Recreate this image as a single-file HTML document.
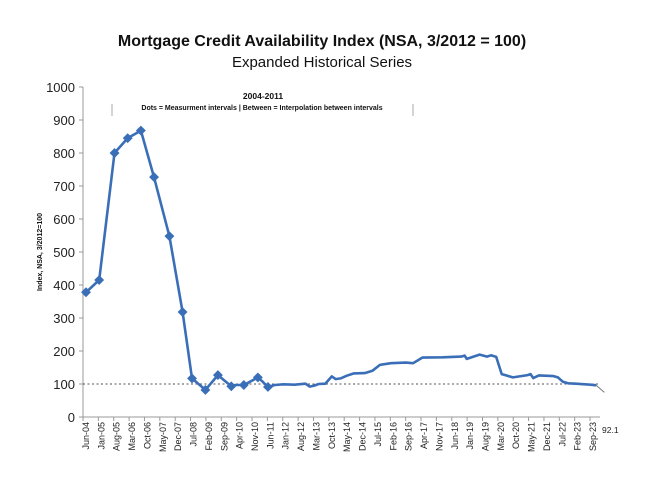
<!DOCTYPE html>
<html><head><meta charset="utf-8"><style>
body{margin:0;background:#fff;}
svg{display:block;font-family:"Liberation Sans",sans-serif;}
</style></head><body>
<svg id="s" width="650" height="484" viewBox="0 0 650 484" xmlns="http://www.w3.org/2000/svg">
<text x="322" y="46" text-anchor="middle" font-size="16" font-weight="bold" fill="#111">Mortgage Credit Availability Index (NSA, 3/2012 = 100)</text>
<text x="322" y="67" text-anchor="middle" font-size="15" fill="#111">Expanded Historical Series</text>
<text x="263" y="99" text-anchor="middle" font-size="8.5" font-weight="bold" fill="#111">2004-2011</text>
<text x="262" y="110" text-anchor="middle" font-size="7" font-weight="bold" fill="#111">Dots = Measurment intervals  |  Between = Interpolation between intervals</text>
<line x1="112" y1="104" x2="112" y2="116" stroke="#aaa" stroke-width="1"/>
<line x1="413" y1="104" x2="413" y2="116" stroke="#aaa" stroke-width="1"/>
<text transform="translate(42,252) rotate(-90)" text-anchor="middle" font-size="7" font-weight="bold" fill="#111">Index, NSA, 3/2012=100</text>
<g id="g"></g>
</svg>
<script>
var g=document.getElementById('g'),NS="http://www.w3.org/2000/svg",h='';
function X(m){return 86+m*2.195;}function Y(v){return 417-v*0.33;}
h+='<line x1="83" y1="87" x2="83" y2="417" stroke="#999"/>';
for(var v=0;v<=1000;v+=100){h+='<line x1="79" x2="83" y1="'+Y(v)+'" y2="'+Y(v)+'" stroke="#999"/><text x="75" y="'+(Y(v)+5)+'" text-anchor="end" font-size="13" fill="#222">'+v+'</text>';}
h+='<line x1="83" y1="417" x2="600" y2="417" stroke="#999"/>';
var mo=["Jan","Feb","Mar","Apr","May","Jun","Jul","Aug","Sep","Oct","Nov","Dec"];
for(var i=0;i<34;i++){var m=i*7,mi=(5+m)%12,yr=4+Math.floor((5+m)/12);var x=X(m);
h+='<line x1="'+(x-3)+'" x2="'+(x-3)+'" y1="417" y2="421" stroke="#999"/>';
h+='<text transform="translate('+(x+3)+',422) rotate(-90)" text-anchor="end" font-size="9" fill="#222">'+mo[mi]+'-'+(yr<10?'0':'')+yr+'</text>';}
h+='<line x1="83" x2="600" y1="'+Y(100)+'" y2="'+Y(100)+'" stroke="#555" stroke-dasharray="2,2.5" stroke-width="1"/>';
var d=[[0,378],[6,415],[13,800],[19,845],[25,868],[31,727],[38,548],[44,318],[48.3,117],[54.4,82],[60.1,127],[66.2,93],[68,97],[71.9,97],[75,108],[78.3,120],[80,110],[82.9,91],[86,97],[90,99],[95,98],[100,101],[101.9,92],[104,95],[106,100],[109,101],[112,123],[113.7,115],[116,117],[118.7,125],[122,132],[127,133],[130.5,140],[133.9,158],[138.9,163],[145.7,165],[149,163],[153.2,180],[162.5,181],[171,183],[172.5,186],[173.5,176],[179.3,189],[182.7,183],[184.5,187],[186.9,182],[189.4,130],[192,125],[194.5,120],[201.2,127],[202.5,130],[203.8,118],[206.3,126],[213,124],[215,120],[217.2,107],[219.7,102],[223.1,101],[229.9,98],[232.5,96]];
var p=d.map(function(a){return X(a[0]).toFixed(1)+','+Y(a[1]).toFixed(1);}).join(' ');
h+='<polyline points="'+p+'" fill="none" stroke="#3a6fb8" stroke-width="2.6" stroke-linejoin="round"/>';
var dots=[0,6,13,19,25,31,38,44,48.3,54.4,60.1,66.2,71.9,78.3,82.9];
d.forEach(function(a){if(dots.indexOf(a[0])>=0)h+='<rect x="'+(X(a[0])-3.5)+'" y="'+(Y(a[1])-3.5)+'" width="7" height="7" fill="#3a6fb8" transform="rotate(45 '+X(a[0])+' '+Y(a[1])+')"/>';});
var ex=X(232.5),ey=Y(96);
h+='<line x1="'+ex+'" y1="'+ey+'" x2="'+(ex+8)+'" y2="'+(ey+7)+'" stroke="#777" stroke-width="1"/>';
h+='<text x="602" y="433" font-size="8.5" fill="#222">92.1</text>';
g.innerHTML=h;
</script>
</body></html>
